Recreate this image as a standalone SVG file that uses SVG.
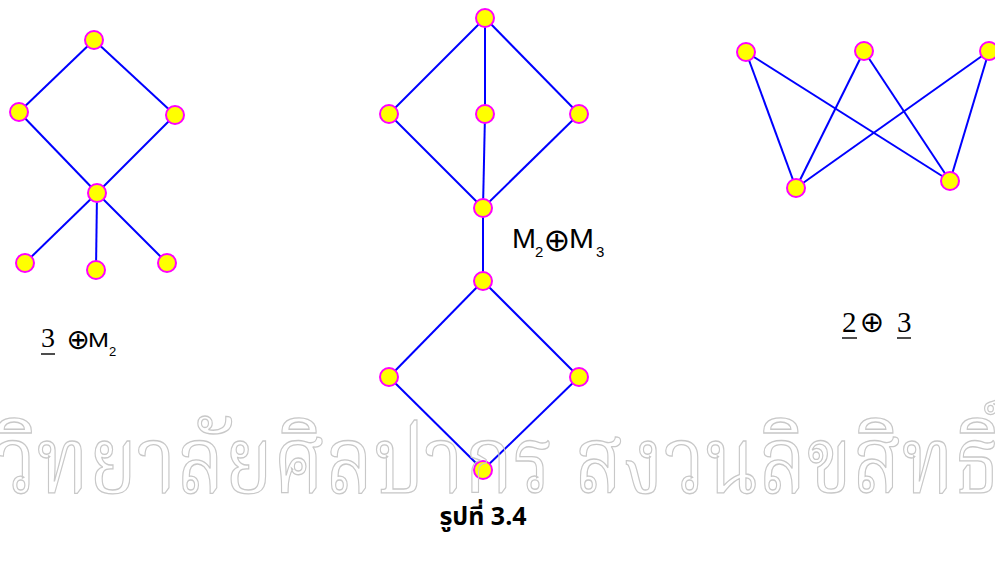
<svg xmlns="http://www.w3.org/2000/svg" width="995" height="565" viewBox="0 0 995 565">
  <style>
    .edge { stroke: #0000ff; stroke-width: 2; fill: none; }
    .node { fill: #ffff00; stroke: #ff00ff; stroke-width: 2; }
    .serif { font-family: "Liberation Serif", "Times New Roman", serif; fill: #000; }
    .sans { font-family: "Liberation Sans", Arial, sans-serif; fill: #000; }
    .oplus { font-family: "DejaVu Sans", sans-serif; fill: #000; text-anchor: middle; }
    .uline { stroke: #000; stroke-width: 1.4; }
    .mark { font-family: "Noto Serif Thai", "Noto Sans Thai", "Norasi", "Loma", "Garuda", sans-serif; fill: none; stroke: #c8c8c8; stroke-width: 1.3; }
    .caption { font-family: "Noto Sans Thai", "Loma", "Garuda", "Liberation Sans", sans-serif; font-weight: bold; fill: #000; }
  </style>

  <g id="connectors">
    <!-- 3 (+) M2 -->
    <g id="edges-left">
      <line class="edge" x1="94" y1="40" x2="19" y2="112"/>
      <line class="edge" x1="94" y1="40" x2="175" y2="115"/>
      <line class="edge" x1="19" y1="112" x2="97" y2="193"/>
      <line class="edge" x1="175" y1="115" x2="97" y2="193"/>
      <line class="edge" x1="97" y1="193" x2="25" y2="263"/>
      <line class="edge" x1="97" y1="193" x2="96" y2="270"/>
      <line class="edge" x1="97" y1="193" x2="167" y2="263"/>
    </g>
    <!-- M2 (+) M3 -->
    <g id="edges-middle">
      <line class="edge" x1="485" y1="18" x2="389" y2="114"/>
      <line class="edge" x1="485" y1="18" x2="485" y2="114"/>
      <line class="edge" x1="485" y1="18" x2="579" y2="114"/>
      <line class="edge" x1="389" y1="114" x2="483" y2="208"/>
      <line class="edge" x1="485" y1="114" x2="483" y2="208"/>
      <line class="edge" x1="579" y1="114" x2="483" y2="208"/>
      <line class="edge" x1="483" y1="208" x2="483" y2="281"/>
      <line class="edge" x1="483" y1="281" x2="389" y2="377"/>
      <line class="edge" x1="483" y1="281" x2="579" y2="377"/>
      <line class="edge" x1="389" y1="377" x2="483" y2="470"/>
      <line class="edge" x1="579" y1="377" x2="483" y2="470"/>
    </g>
    <!-- 2 (+) 3 -->
    <g id="edges-right">
      <line class="edge" x1="746" y1="52" x2="796" y2="188"/>
      <line class="edge" x1="746" y1="52" x2="950" y2="181"/>
      <line class="edge" x1="864" y1="51" x2="796" y2="188"/>
      <line class="edge" x1="864" y1="51" x2="950" y2="181"/>
      <line class="edge" x1="989" y1="51" x2="796" y2="188"/>
      <line class="edge" x1="989" y1="51" x2="950" y2="181"/>
    </g>
  </g>

  <g id="nodes-left">
    <g id="a-top"><circle class="node" cx="94" cy="40" r="9"/></g>
    <g id="a-left"><circle class="node" cx="19" cy="112" r="9"/></g>
    <g id="a-right"><circle class="node" cx="175" cy="115" r="9"/></g>
    <g id="a-mid"><circle class="node" cx="97" cy="193" r="9"/></g>
    <g id="a-bl"><circle class="node" cx="25" cy="263" r="9"/></g>
    <g id="a-bm"><circle class="node" cx="96" cy="270" r="9"/></g>
    <g id="a-br"><circle class="node" cx="167" cy="263" r="9"/></g>
  </g>

  <g id="nodes-middle">
    <g id="b-top"><circle class="node" cx="485" cy="18" r="9"/></g>
    <g id="b-left"><circle class="node" cx="389" cy="114" r="9"/></g>
    <g id="b-mid"><circle class="node" cx="485" cy="114" r="9"/></g>
    <g id="b-right"><circle class="node" cx="579" cy="114" r="9"/></g>
    <g id="b-join"><circle class="node" cx="483" cy="208" r="9"/></g>
    <g id="b-meet"><circle class="node" cx="483" cy="281" r="9"/></g>
    <g id="b-left2"><circle class="node" cx="389" cy="377" r="9"/></g>
    <g id="b-right2"><circle class="node" cx="579" cy="377" r="9"/></g>
    <g id="b-bottom"><circle class="node" cx="483" cy="470" r="9"/></g>
  </g>

  <g id="nodes-right">
    <g id="c-tl"><circle class="node" cx="746" cy="52" r="9"/></g>
    <g id="c-tm"><circle class="node" cx="864" cy="51" r="9"/></g>
    <g id="c-tr"><circle class="node" cx="989" cy="51" r="9"/></g>
    <g id="c-bl"><circle class="node" cx="796" cy="188" r="9"/></g>
    <g id="c-br"><circle class="node" cx="950" cy="181" r="9"/></g>
  </g>

  <!-- labels -->
  <g id="label-left">
    <text class="serif" x="41" y="347" font-size="28">3</text>
    <line class="uline" x1="41" y1="354" x2="55" y2="354"/>
    <text class="oplus" x="78" y="349" font-size="28">⊕</text>
    <text class="sans" x="88" y="347" font-size="20" textLength="21" lengthAdjust="spacingAndGlyphs">M</text>
    <text class="sans" x="109" y="356" font-size="13">2</text>
  </g>
  <g id="label-middle">
    <text class="sans" x="512" y="248" font-size="27" textLength="24" lengthAdjust="spacingAndGlyphs">M</text>
    <text class="sans" x="535" y="257" font-size="15">2</text>
    <text class="oplus" x="557" y="251" font-size="32">⊕</text>
    <text class="sans" x="569" y="248" font-size="27" textLength="25" lengthAdjust="spacingAndGlyphs">M</text>
    <text class="sans" x="596" y="257" font-size="15">3</text>
  </g>
  <g id="label-right">
    <text class="serif" x="842" y="332" font-size="29">2</text>
    <line class="uline" x1="842" y1="338" x2="857" y2="338"/>
    <text class="oplus" x="872" y="332" font-size="29">⊕</text>
    <text class="serif" x="897" y="332" font-size="29">3</text>
    <line class="uline" x1="897" y1="338" x2="911" y2="338"/>
  </g>

  <!-- outlined watermark across the lower part -->
  <text class="mark" x="-5" y="492" font-size="93" textLength="1005" lengthAdjust="spacingAndGlyphs">วิทยาลัยศิลปากร สงวนลิขสิทธิ์</text>

  <text class="caption" x="483" y="525" font-size="25" text-anchor="middle">รูปที่ 3.4</text>
</svg>
